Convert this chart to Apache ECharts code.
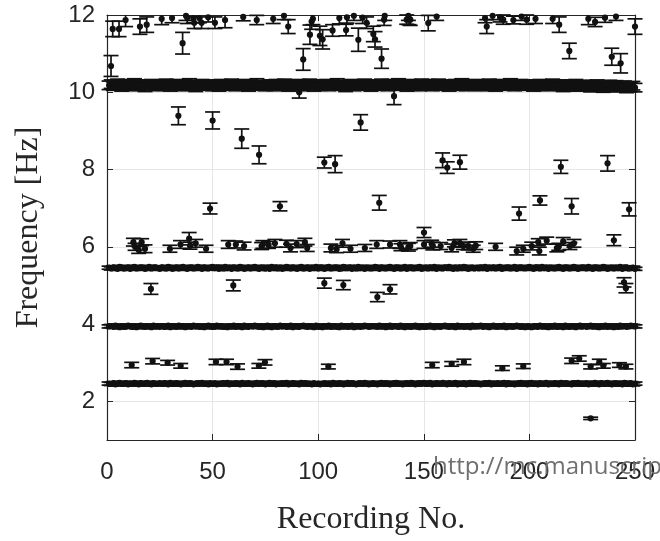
<!DOCTYPE html>
<html>
<head>
<meta charset="utf-8">
<script src="https://cdn.jsdelivr.net/npm/echarts@6/dist/echarts.min.js"></script>
<style>
  html, body { margin: 0; padding: 0; background: #fff; }
  #chart { width: 660px; height: 541px; }
</style>
</head>
<body>
<div id="chart"></div>
<script>
// axis ranges and tick labels
var xTicks = [0, 50, 100, 150, 200, 250];
var yTicks = [2, 4, 6, 8, 10, 12];
var Y_MIN = 1, Y_MAX = 12;

// dense bands: one value per recording (recording no. = index + 1)
var bandHigh = [
  10.18,10.21,10.16,10.19,10.23,10.17,10.14,10.20,10.22,10.18,10.15,10.19,10.24,10.17,10.16,10.21,10.18,10.13,10.20,10.19,10.22,10.17,10.15,10.18,10.21,
  10.19,10.16,10.23,10.18,10.14,10.20,10.17,10.22,10.19,10.15,10.18,10.21,10.16,10.24,10.19,10.17,10.13,10.20,10.18,10.22,10.16,10.19,10.21,10.17,10.15,
  10.20,10.18,10.14,10.22,10.19,10.16,10.21,10.17,10.23,10.18,10.15,10.20,10.19,10.16,10.22,10.18,10.14,10.21,10.17,10.19,10.24,10.16,10.18,10.20,10.15,
  10.17,10.21,10.19,10.15,10.22,10.18,10.16,10.20,10.23,10.17,10.14,10.19,10.21,10.18,10.16,10.22,10.19,10.15,10.20,10.17,10.23,10.18,10.14,10.21,10.19,
  10.16,10.20,10.18,10.22,10.15,10.19,10.21,10.17,10.24,10.18,10.16,10.20,10.13,10.19,10.22,10.17,10.15,10.21,10.18,10.20,10.16,10.23,10.19,10.17,10.14,
  10.21,10.18,10.16,10.20,10.23,10.17,10.19,10.15,10.22,10.18,10.20,10.16,10.24,10.19,10.17,10.21,10.14,10.18,10.22,10.16,10.20,10.19,10.15,10.23,10.18,
  10.17,10.22,10.19,10.15,10.20,10.18,10.23,10.16,10.19,10.21,10.17,10.14,10.20,10.18,10.22,10.16,10.19,10.24,10.17,10.15,10.21,10.18,10.20,10.16,10.22,
  10.19,10.15,10.21,10.18,10.16,10.23,10.17,10.20,10.14,10.19,10.22,10.18,10.16,10.21,10.17,10.24,10.19,10.15,10.20,10.18,10.22,10.16,10.19,10.17,10.21,
  10.18,10.14,10.20,10.17,10.22,10.16,10.19,10.21,10.15,10.18,10.23,10.17,10.20,10.16,10.19,10.13,10.21,10.18,10.15,10.20,10.17,10.22,10.14,10.19,10.16,
  10.20,10.15,10.18,10.12,10.19,10.16,10.21,10.14,10.17,10.11,10.18,10.15,10.20,10.13,10.16,10.19,10.12,10.17,10.14,10.18,10.10,10.16,10.13,10.17,10.12
];
var bandMid = [
  5.46,5.44,5.47,5.45,5.43,5.48,5.46,5.44,5.45,5.47,5.43,5.46,5.48,5.44,5.45,5.47,5.46,5.43,5.45,5.48,5.44,5.46,5.47,5.45,5.43,
  5.47,5.45,5.44,5.48,5.46,5.43,5.45,5.47,5.44,5.46,5.48,5.45,5.43,5.46,5.47,5.44,5.45,5.48,5.46,5.43,5.47,5.45,5.44,5.46,5.48,
  5.45,5.47,5.43,5.46,5.44,5.48,5.45,5.46,5.43,5.47,5.45,5.44,5.48,5.46,5.43,5.45,5.47,5.44,5.46,5.48,5.45,5.43,5.46,5.47,5.44,
  5.46,5.43,5.48,5.45,5.47,5.44,5.46,5.43,5.45,5.48,5.46,5.44,5.47,5.45,5.43,5.46,5.48,5.44,5.45,5.47,5.43,5.46,5.45,5.48,5.44,
  5.47,5.45,5.43,5.46,5.48,5.44,5.45,5.47,5.46,5.43,5.44,5.48,5.46,5.45,5.47,5.43,5.46,5.44,5.48,5.45,5.46,5.43,5.47,5.45,5.44,
  5.45,5.48,5.46,5.43,5.47,5.45,5.44,5.46,5.48,5.45,5.43,5.47,5.46,5.44,5.45,5.48,5.43,5.46,5.47,5.44,5.45,5.46,5.48,5.43,5.45,
  5.46,5.44,5.47,5.45,5.48,5.43,5.46,5.45,5.44,5.47,5.46,5.48,5.45,5.43,5.46,5.44,5.47,5.45,5.48,5.46,5.43,5.45,5.47,5.44,5.46,
  5.44,5.47,5.45,5.48,5.43,5.46,5.45,5.47,5.44,5.46,5.48,5.43,5.45,5.46,5.47,5.44,5.45,5.48,5.43,5.46,5.47,5.45,5.44,5.46,5.48,
  5.45,5.43,5.46,5.47,5.44,5.48,5.45,5.46,5.43,5.47,5.45,5.44,5.46,5.48,5.45,5.43,5.47,5.46,5.44,5.45,5.48,5.46,5.43,5.45,5.47,
  5.46,5.44,5.48,5.45,5.43,5.47,5.46,5.44,5.45,5.48,5.46,5.43,5.45,5.47,5.44,5.46,5.45,5.48,5.43,5.46,5.47,5.44,5.45,5.46,5.43
];
var bandLow = [
  3.94,3.95,3.93,3.96,3.94,3.92,3.95,3.93,3.94,3.96,3.95,3.93,3.94,3.92,3.95,3.96,3.94,3.93,3.95,3.94,3.92,3.96,3.94,3.95,3.93,
  3.95,3.93,3.94,3.96,3.92,3.95,3.94,3.93,3.96,3.94,3.95,3.92,3.94,3.95,3.93,3.96,3.94,3.95,3.93,3.94,3.92,3.95,3.96,3.94,3.93,
  3.93,3.96,3.94,3.95,3.93,3.94,3.92,3.95,3.94,3.96,3.93,3.95,3.94,3.92,3.96,3.94,3.93,3.95,3.94,3.96,3.95,3.93,3.94,3.92,3.95,
  3.96,3.94,3.92,3.95,3.94,3.93,3.96,3.94,3.95,3.93,3.94,3.96,3.92,3.95,3.94,3.93,3.95,3.96,3.94,3.93,3.95,3.94,3.92,3.96,3.94,
  3.94,3.92,3.95,3.94,3.96,3.93,3.94,3.95,3.93,3.92,3.96,3.94,3.95,3.93,3.94,3.96,3.92,3.94,3.95,3.93,3.94,3.96,3.95,3.93,3.94,
  3.95,3.94,3.93,3.96,3.94,3.95,3.92,3.94,3.96,3.93,3.95,3.94,3.93,3.96,3.94,3.92,3.95,3.94,3.93,3.95,3.96,3.94,3.92,3.95,3.93,
  3.93,3.95,3.96,3.94,3.92,3.95,3.94,3.93,3.95,3.96,3.94,3.93,3.95,3.94,3.92,3.96,3.94,3.95,3.93,3.94,3.95,3.92,3.96,3.94,3.95,
  3.94,3.96,3.93,3.95,3.94,3.92,3.95,3.96,3.94,3.93,3.95,3.94,3.96,3.92,3.94,3.95,3.93,3.94,3.96,3.95,3.93,3.94,3.92,3.95,3.94,
  3.92,3.94,3.95,3.93,3.96,3.94,3.95,3.93,3.92,3.95,3.94,3.96,3.93,3.94,3.95,3.92,3.96,3.94,3.93,3.95,3.94,3.92,3.95,3.96,3.94,
  3.95,3.93,3.94,3.96,3.94,3.95,3.93,3.92,3.95,3.94,3.96,3.93,3.95,3.94,3.92,3.95,3.93,3.96,3.94,3.95,3.93,3.94,3.96,3.95,3.94
];
var bandBottom = [
  2.46,2.45,2.47,2.44,2.46,2.48,2.45,2.46,2.47,2.44,2.46,2.45,2.48,2.46,2.44,2.47,2.45,2.46,2.48,2.45,2.44,2.47,2.46,2.45,2.47,
  2.45,2.47,2.46,2.44,2.48,2.45,2.46,2.47,2.45,2.44,2.46,2.48,2.45,2.47,2.46,2.44,2.45,2.47,2.46,2.48,2.45,2.46,2.44,2.47,2.45,
  2.47,2.44,2.46,2.45,2.47,2.46,2.48,2.44,2.46,2.45,2.47,2.46,2.44,2.48,2.45,2.46,2.47,2.45,2.44,2.46,2.48,2.45,2.47,2.46,2.44,
  2.46,2.48,2.45,2.47,2.44,2.46,2.45,2.47,2.46,2.48,2.44,2.45,2.47,2.46,2.45,2.44,2.48,2.46,2.47,2.45,2.46,2.44,2.47,2.45,2.46,
  2.44,2.46,2.47,2.45,2.46,2.44,2.48,2.46,2.45,2.47,2.46,2.44,2.45,2.48,2.46,2.47,2.45,2.44,2.46,2.47,2.45,2.48,2.46,2.44,2.45,
  2.47,2.45,2.44,2.46,2.48,2.45,2.47,2.46,2.44,2.45,2.47,2.48,2.46,2.45,2.44,2.46,2.47,2.45,2.48,2.46,2.44,2.45,2.47,2.46,2.48,
  2.45,2.46,2.48,2.44,2.45,2.47,2.46,2.45,2.48,2.46,2.44,2.47,2.45,2.46,2.48,2.44,2.46,2.45,2.47,2.44,2.46,2.48,2.45,2.47,2.46,
  2.46,2.44,2.45,2.47,2.46,2.48,2.44,2.46,2.45,2.47,2.45,2.46,2.48,2.44,2.47,2.45,2.46,2.44,2.45,2.47,2.48,2.46,2.45,2.44,2.47,
  2.48,2.45,2.46,2.44,2.47,2.45,2.46,2.48,2.44,2.46,2.45,2.47,2.46,2.44,2.48,2.45,2.47,2.46,2.45,2.44,2.47,2.46,2.48,2.45,2.46,
  2.45,2.47,2.44,2.46,2.45,2.48,2.46,2.44,2.47,2.45,2.46,2.48,2.45,2.44,2.46,2.47,2.45,2.46,2.44,2.48,2.46,2.45,2.47,2.44,2.46
];
var bandErr = [0.11, 0.04, 0.04, 0.04];

// isolated estimates: recording no., frequency, half error bar
var sparseX = [
  1.9, 2.7, 5.7, 8.8, 15.6, 18.8, 25.9, 30.8, 35.8, 37.4, 38.0, 40.9, 41.3, 43.7, 44.8, 47.9, 51.1, 55.9, 64.5, 70.9,
  78.7, 83.8, 85.8, 92.9, 96.1, 96.9, 97.5, 100.8, 102.1, 106.8, 110.0, 113.2, 113.6, 116.9, 119.0, 121.0, 122.9, 126.1, 126.9, 130.0,
  131.2, 131.5, 141.9, 142.7, 143.0, 143.6, 152.1, 156.1, 179.0, 179.8, 182.6, 186.1, 187.6, 192.4, 196.3, 198.7, 202.9, 211.0, 214.1, 218.9,
  227.9, 231.1, 235.8, 241.0, 239.0, 243.2, 250.0,
  91.0, 33.8, 50.0, 120.1, 135.9, 63.8, 72.0, 102.9, 108.0, 158.9, 161.1, 167.1, 214.9, 237.0,
  48.8, 81.9, 128.9, 195.1, 205.0, 220.0, 247.2, 150.1, 240.0, 38.9,
  13.3, 12.5, 16.4, 18.0, 15.0, 29.8, 34.8, 39.3, 42.0, 46.9, 57.4, 61.0, 64.9, 73.2, 73.8, 76.5, 79.5, 85.0, 86.9, 89.8,
  93.7, 94.8, 106.0, 108.7, 111.5, 115.3, 122.1, 127.7, 134.0, 138.7, 139.2, 142.7, 143.6, 150.1, 153.7, 154.3, 158.0, 163.2, 164.5, 167.1,
  168.7, 171.0, 173.4, 174.6, 184.0, 194.0, 197.1, 201.1, 204.2, 204.7, 208.2, 213.0, 213.9, 216.0, 219.2, 221.1,
  20.8, 59.8, 102.9, 111.9, 128.0, 134.0, 244.8, 245.7,
  11.7, 21.6, 28.7, 34.9, 51.6, 56.6, 61.8, 71.9, 74.8, 104.8, 154.0, 163.2, 169.0, 187.2, 197.1, 220.0, 223.6, 229.0, 233.1, 235.0,
  242.6, 245.7, 229.0
];
var sparseY = [
  10.68, 11.64, 11.64, 11.87, 11.70, 11.75, 11.90, 11.92, 11.27, 11.98, 11.93, 11.92, 11.80, 11.92, 11.80, 11.94, 11.80, 11.87, 11.95, 11.87,
  11.90, 11.98, 11.70, 10.85, 11.49, 11.83, 11.90, 11.46, 11.37, 11.60, 11.92, 11.61, 11.94, 11.98, 11.36, 11.93, 11.80, 11.51, 11.37, 10.87,
  11.88, 11.98, 11.88, 11.98, 11.90, 11.88, 11.79, 11.96, 11.92, 11.70, 11.98, 11.94, 11.88, 11.87, 11.96, 11.88, 11.90, 11.90, 11.75, 11.07,
  11.90, 11.82, 11.93, 11.96, 10.92, 10.75, 11.70,
  10.00, 9.39, 9.27, 9.22, 9.90, 8.80, 8.38, 8.18, 8.14, 8.24, 8.05, 8.19, 8.07, 8.16,
  6.99, 7.05, 7.14, 6.86, 7.20, 7.05, 6.97, 6.37, 6.17, 6.21,
  6.00, 6.12, 6.12, 5.95, 5.92, 5.95, 6.06, 6.03, 6.09, 5.95, 6.06, 6.06, 6.02, 6.02, 6.06, 6.05, 6.09, 6.08, 5.97, 6.07,
  6.12, 5.97, 5.97, 5.94, 6.09, 5.95, 5.97, 6.06, 6.06, 6.06, 5.99, 5.99, 6.02, 6.06, 6.08, 6.02, 6.02, 5.97, 6.09, 6.09,
  6.02, 6.02, 5.95, 6.03, 6.00, 5.89, 5.95, 6.02, 6.12, 5.89, 6.16, 5.97, 6.00, 6.14, 6.02, 6.09,
  4.91, 5.00, 5.06, 5.01, 4.70, 4.90, 5.08, 4.93,
  2.94, 3.04, 3.00, 2.92, 3.02, 3.02, 2.90, 2.92, 3.01, 2.90, 2.94, 2.97, 3.02, 2.86, 2.91, 3.05, 3.11, 2.90, 3.02, 2.92,
  2.94, 2.90, 1.56
];
var sparseErr = [
  0.27, 0.20, 0.20, 0.17, 0.20, 0.20, 0.15, 0.12, 0.28, 0.12, 0.15, 0.12, 0.15, 0.12, 0.15, 0.12, 0.15, 0.20, 0.10, 0.12,
  0.12, 0.10, 0.18, 0.28, 0.25, 0.20, 0.15, 0.25, 0.25, 0.15, 0.15, 0.15, 0.15, 0.12, 0.30, 0.15, 0.15, 0.20, 0.20, 0.25,
  0.15, 0.12, 0.12, 0.12, 0.15, 0.15, 0.20, 0.10, 0.12, 0.18, 0.10, 0.12, 0.12, 0.10, 0.10, 0.12, 0.12, 0.12, 0.20, 0.20,
  0.15, 0.12, 0.12, 0.10, 0.22, 0.25, 0.20,
  0.15, 0.23, 0.22, 0.20, 0.22, 0.25, 0.23, 0.14, 0.22, 0.19, 0.15, 0.18, 0.17, 0.20,
  0.14, 0.12, 0.19, 0.17, 0.12, 0.20, 0.17, 0.13, 0.14, 0.16,
  0.09, 0.10, 0.09, 0.10, 0.09, 0.09, 0.10, 0.09, 0.10, 0.09, 0.10, 0.09, 0.10, 0.09, 0.10, 0.09, 0.10, 0.09, 0.10, 0.09,
  0.10, 0.09, 0.10, 0.09, 0.10, 0.09, 0.09, 0.10, 0.09, 0.10, 0.09, 0.10, 0.09, 0.10, 0.09, 0.10, 0.09, 0.10, 0.09, 0.10,
  0.09, 0.10, 0.09, 0.10, 0.09, 0.10, 0.09, 0.10, 0.09, 0.10, 0.09, 0.10, 0.09, 0.10, 0.09, 0.10,
  0.14, 0.14, 0.13, 0.12, 0.12, 0.12, 0.12, 0.12,
  0.07, 0.07, 0.06, 0.06, 0.07, 0.07, 0.07, 0.06, 0.07, 0.06, 0.07, 0.06, 0.07, 0.06, 0.06, 0.07, 0.07, 0.06, 0.07, 0.06,
  0.06, 0.06, 0.03
];

var bands = [bandHigh, bandMid, bandLow, bandBottom];
var bandData = [];
bands.forEach(function (b, k) {
  b.forEach(function (v, i) { bandData.push([i + 1, v, bandErr[k]]); });
});
var sparseData = sparseX.map(function (x, i) { return [x, sparseY[i], sparseErr[i]]; });

var INK = '#111';
var CAP = 7.5;

// matlab-like errorbar: bar clipped to the axes, caps dropped when outside
function renderErrorBar(params, api) {
  var x = api.value(0), y = api.value(1), e = api.value(2);
  var hiV = y + e, loV = y - e;
  var c = api.coord([x, y]);
  var top = api.coord([x, Math.min(hiV, Y_MAX)]);
  var bot = api.coord([x, Math.max(loV, Y_MIN)]);
  var lineStyle = { stroke: INK, lineWidth: 1.7 };
  var kids = [{
    type: 'line',
    shape: { x1: c[0], y1: top[1], x2: c[0], y2: bot[1] },
    style: lineStyle
  }];
  if (hiV <= Y_MAX) {
    kids.push({ type: 'line', shape: { x1: c[0] - CAP, y1: top[1], x2: c[0] + CAP, y2: top[1] }, style: lineStyle });
  }
  if (loV >= Y_MIN) {
    kids.push({ type: 'line', shape: { x1: c[0] - CAP, y1: bot[1], x2: c[0] + CAP, y2: bot[1] }, style: lineStyle });
  }
  kids.push({ type: 'circle', shape: { cx: c[0], cy: c[1], r: 3.1 }, style: { fill: INK } });
  return { type: 'group', children: kids };
}

var axisColor = '#262626';
var gridColor = '#e6e6e6';

var chart = echarts.init(document.getElementById('chart'));
chart.setOption({
  animation: false,
  grid: { left: 107, right: 25, top: 15, bottom: 94 },
  xAxis: [{
    type: 'value', min: 0, max: 250, interval: 50, position: 'bottom',
    name: 'Recording No.', nameLocation: 'middle', nameGap: 64,
    nameTextStyle: { fontFamily: 'Liberation Serif', fontSize: 32, color: axisColor },
    axisLine: { show: true, lineStyle: { color: axisColor, width: 1.2 } },
    axisTick: { show: true, inside: true, length: 6, lineStyle: { color: axisColor } },
    axisLabel: { fontFamily: 'Liberation Sans', fontSize: 24, color: axisColor, margin: 20,
      formatter: function (v) { return xTicks.indexOf(v) >= 0 ? String(v) : ''; } },
    splitLine: { show: true, lineStyle: { color: gridColor, width: 1 } }
  }, {
    type: 'value', min: 0, max: 250, interval: 50, position: 'top',
    axisLine: { show: true, onZero: false, lineStyle: { color: axisColor, width: 1.2 } },
    axisTick: { show: true, inside: true, length: 6, lineStyle: { color: axisColor } },
    axisLabel: { show: false }, splitLine: { show: false }
  }],
  yAxis: [{
    type: 'value', min: Y_MIN, max: Y_MAX, position: 'left',
    name: 'Frequency [Hz]', nameLocation: 'middle', nameGap: 62, nameRotate: 90,
    nameTextStyle: { fontFamily: 'Liberation Serif', fontSize: 32, color: axisColor },
    axisLine: { show: true, onZero: false, lineStyle: { color: axisColor, width: 1.2 } },
    axisTick: { show: true, inside: true, length: 6, customValues: yTicks, lineStyle: { color: axisColor } },
    axisLabel: { fontFamily: 'Liberation Sans', fontSize: 24, color: axisColor, margin: 12, customValues: yTicks },
    splitLine: { show: true, lineStyle: { color: gridColor, width: 1 } }
  }, {
    type: 'value', min: Y_MIN, max: Y_MAX, position: 'right',
    axisLine: { show: true, onZero: false, lineStyle: { color: axisColor, width: 1.2 } },
    axisTick: { show: true, inside: true, length: 6, customValues: yTicks, lineStyle: { color: axisColor } },
    axisLabel: { show: false }, splitLine: { show: false }
  }],
  graphic: [{
    type: 'text', left: 433, top: 455, z: 100,
    style: { text: 'http://mc.manuscriptcentral.com', fontFamily: 'Open Sans', fontSize: 24, fill: '#707070' }
  }],
  series: [{
    type: 'custom', name: 'bands', clip: false, renderItem: renderErrorBar,
    encode: { x: 0, y: 1 }, data: bandData
  }, {
    type: 'custom', name: 'estimates', clip: false, renderItem: renderErrorBar,
    encode: { x: 0, y: 1 }, data: sparseData
  }]
});
</script>
</body>
</html>
